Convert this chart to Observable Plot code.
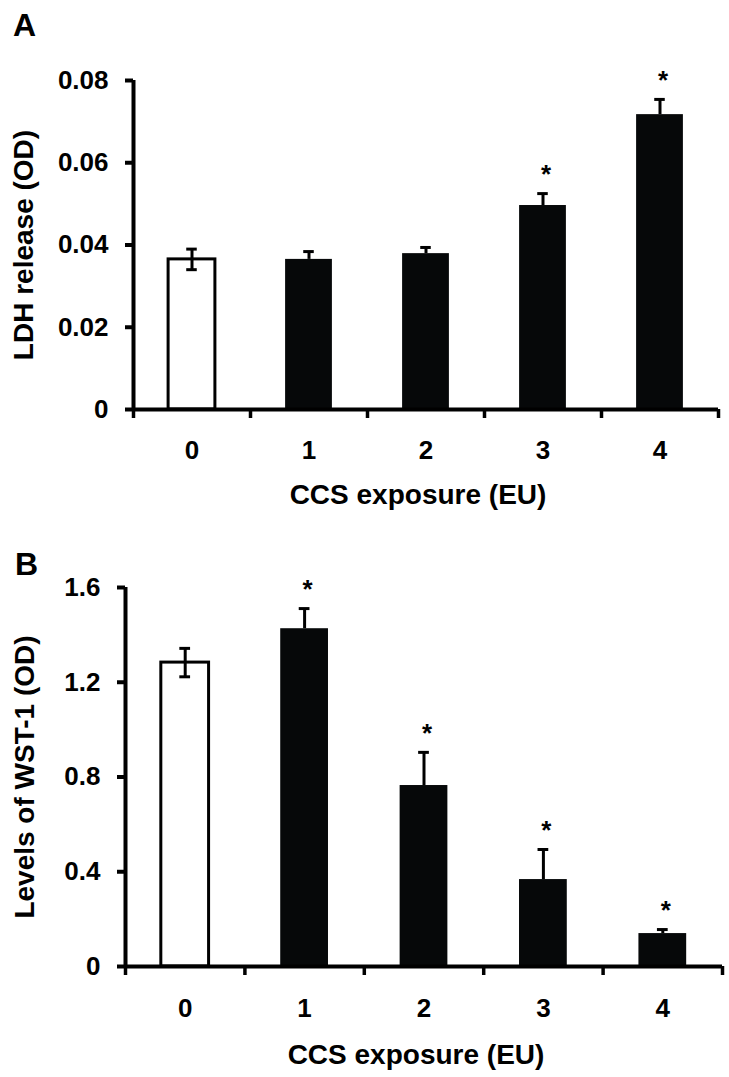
<!DOCTYPE html>
<html>
<head>
<meta charset="utf-8">
<script src="https://cdn.jsdelivr.net/npm/d3@7"></script>
<script src="https://cdn.jsdelivr.net/npm/@observablehq/plot@0.6"></script>
<style>
  html, body { margin: 0; padding: 0; background: white; }
  #wrap { position: relative; width: 729px; height: 1077px; background: white; overflow: hidden; }
  .panel { position: absolute; left: 0; z-index: 1; }
  .letter { position: absolute; z-index: 2; font-family: 'Liberation Sans', Arial, sans-serif; font-weight: bold; font-size: 32px; line-height: 1; color: black; }
</style>
</head>
<body>
<div id="wrap">
  <div class="panel" id="pA" style="top:0px;"></div>
  <div class="panel" id="pB" style="top:540px;"></div>
  <div class="letter" style="left:13px; top:9px;">A</div>
  <div class="letter" style="left:15px; top:548px;">B</div>
</div>
<script>
// ---- data ----
const doses = [0, 1, 2, 3, 4];
const xTitle = "CCS exposure (EU)";

const ldhMean = [0.0365, 0.0365, 0.0379, 0.0496, 0.0717];
const ldhSD   = [0.0025, 0.0019, 0.0015, 0.0029, 0.0037];
const ldhSig  = [false, false, false, true, true];
const ldhTicks = [0, 0.02, 0.04, 0.06, 0.08];
const ldhTickLabels = ["0", "0.02", "0.04", "0.06", "0.08"];
const ldhTitle = "LDH release (OD)";

const wstMean = [1.283, 1.426, 0.764, 0.367, 0.139];
const wstSD   = [0.060, 0.085, 0.140, 0.127, 0.017];
const wstSig  = [false, true, true, true, true];
const wstTicks = [0, 0.4, 0.8, 1.2, 1.6];
const wstTickLabels = ["0", "0.4", "0.8", "1.2", "1.6"];
const wstTitle = "Levels of WST-1 (OD)";

const FONT = "'Liberation Sans', Arial, sans-serif";
const BLACK = "#060809";

function panel({means, sds, sig, ticks, tickLabels, title, height, marginTop, marginBottom, marginLeft, marginRight, yTitleDx, xTitleDy, xTickPad}) {
  const data = doses.map((d, i) => ({dose: d, mean: means[i], sd: sds[i], sig: sig[i], control: d === 0}));
  const ctrl = data.filter(d => d.control);
  const bounds = doses.map(d => d - 0.5).concat([doses[doses.length - 1] + 0.5]);
  const yMax = ticks[ticks.length - 1];
  return Plot.plot({
    width: 729,
    height, marginTop, marginBottom, marginLeft, marginRight,
    style: {fontFamily: FONT, fontWeight: "bold", background: "white", color: "black", overflow: "visible"},
    x: {domain: [bounds[0], bounds[bounds.length - 1]]},
    y: {domain: [0, yMax]},
    marks: [
      Plot.rect(data.filter(d => !d.control), {x1: d => d.dose - 0.2, x2: d => d.dose + 0.2, y1: 0, y2: "mean", fill: BLACK}),
      Plot.rect(ctrl, {x1: d => d.dose - 0.2, x2: d => d.dose + 0.2, y1: 0, y2: "mean", fill: "white", stroke: "black", strokeWidth: 3}),
      // upper error bars (all bars)
      Plot.ruleX(data, {x: "dose", y1: "mean", y2: d => d.mean + d.sd, stroke: "black", strokeWidth: 3}),
      Plot.ruleY(data, {y: d => d.mean + d.sd, x1: d => d.dose - 0.045, x2: d => d.dose + 0.045, stroke: "black", strokeWidth: 3}),
      // lower error bar only visible on the open bar
      Plot.ruleX(ctrl, {x: "dose", y1: d => d.mean - d.sd, y2: "mean", stroke: "black", strokeWidth: 3}),
      Plot.ruleY(ctrl, {y: d => d.mean - d.sd, x1: d => d.dose - 0.045, x2: d => d.dose + 0.045, stroke: "black", strokeWidth: 3}),
      Plot.text(data.filter(d => d.sig), {x: "dose", y: d => d.mean + d.sd, text: () => "*", dy: -19, dx: 3, fontSize: 26, fontWeight: "bold", fill: "black"}),
      Plot.ruleY([0], {stroke: "black", strokeWidth: 4}),
      Plot.ruleX([bounds[0]], {y1: 0, y2: yMax, stroke: "black", strokeWidth: 4}),
      Plot.axisY({ticks, tickFormat: d => tickLabels[ticks.indexOf(d)], tickSize: 8, tickPadding: 17, strokeWidth: 4, fontSize: 26, label: null}),
      Plot.axisX({ticks: bounds, tickFormat: () => "", tickSize: 9, strokeWidth: 3.5, label: null}),
      Plot.axisX({ticks: doses, tickFormat: d => String(d), tickSize: 0, tickPadding: xTickPad, fontSize: 26, label: null}),
      Plot.text([title], {frameAnchor: "left", textAnchor: "middle", lineAnchor: "middle", rotate: -90, dx: yTitleDx, fontSize: 28, fontWeight: "bold", fill: "black"}),
      Plot.text([xTitle], {frameAnchor: "bottom", textAnchor: "middle", lineAnchor: "middle", dx: -8, dy: xTitleDy, fontSize: 28, fontWeight: "bold", fill: "black"})
    ]
  });
}

document.getElementById("pA").append(panel({
  means: ldhMean, sds: ldhSD, sig: ldhSig, ticks: ldhTicks, tickLabels: ldhTickLabels, title: ldhTitle,
  height: 540, marginTop: 80, marginBottom: 131, marginLeft: 133, marginRight: 11,
  yTitleDx: -109, xTitleDy: 86, xTickPad: 31
}));
document.getElementById("pB").append(panel({
  means: wstMean, sds: wstSD, sig: wstSig, ticks: wstTicks, tickLabels: wstTickLabels, title: wstTitle,
  height: 537, marginTop: 47, marginBottom: 111, marginLeft: 125, marginRight: 7,
  yTitleDx: -100, xTitleDy: 89, xTickPad: 32
}));
</script>
</body>
</html>
